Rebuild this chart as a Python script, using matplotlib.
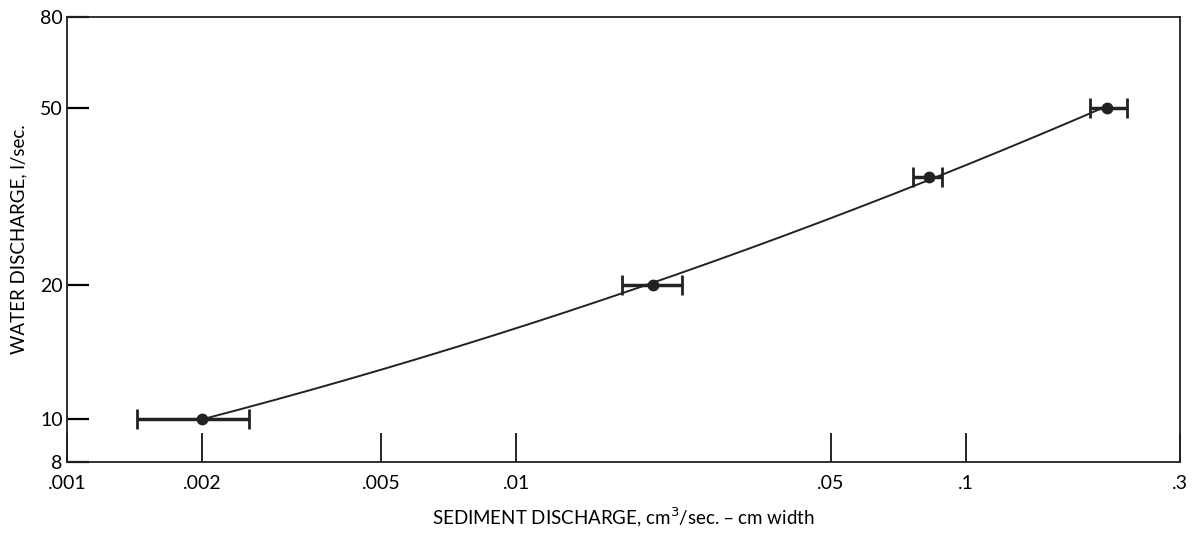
import numpy as np
import matplotlib.pyplot as plt
from matplotlib.ticker import FixedLocator, FixedFormatter, NullLocator

# sediment discharge (cm3/sec - cm width) and water discharge (l/sec)
sed = [0.002, 0.0201, 0.0827, 0.206]
water = [10, 20, 35, 50]
sed_lo = [0.00143, 0.0172, 0.0762, 0.189]
sed_hi = [0.00254, 0.0234, 0.0884, 0.228]

xticks = [0.001, 0.002, 0.005, 0.01, 0.05, 0.1, 0.3]
xlabels = ['.001', '.002', '.005', '.01', '.05', '.1', '.3']
yticks = [8, 10, 20, 50, 80]
ylabels = ['8', '10', '20', '50', '80']

plt.rcParams['font.family'] = ['Lato', 'DejaVu Sans']

fig = plt.figure(figsize=(11.97, 5.35), dpi=100)
ax = fig.add_axes([0.056, 0.1364, 0.930, 0.832])
ax.set_xscale('log')
ax.set_yscale('log')
ax.set_xlim(0.001, 0.3)
ax.set_ylim(8, 80)

sed = np.array(sed)
water = np.array(water)
xerr = [sed - np.array(sed_lo), np.array(sed_hi) - sed]

# smooth curve: quadratic fit in log-log space
c = np.polyfit(np.log10(sed), np.log10(water), 2)
xs = np.logspace(np.log10(sed[0]), np.log10(sed[-1]), 200)
ax.plot(xs, 10 ** np.polyval(c, np.log10(xs)), color='#222222', lw=1.4)

ax.errorbar(sed, water, xerr=xerr, fmt='o', color='#222222', ms=7.5,
            elinewidth=2.5, capsize=7, capthick=2)

for s in ax.spines.values():
    s.set_linewidth(1.3)
    s.set_color('#222222')

ax.xaxis.set_major_locator(FixedLocator(xticks))
ax.xaxis.set_major_formatter(FixedFormatter(xlabels))
ax.xaxis.set_minor_locator(NullLocator())
ax.yaxis.set_major_locator(FixedLocator(yticks))
ax.yaxis.set_major_formatter(FixedFormatter(ylabels))
ax.yaxis.set_minor_locator(NullLocator())
ax.tick_params(axis='x', direction='in', length=21, width=1.2, pad=9, labelsize=14)
ax.tick_params(axis='y', direction='in', length=16, width=1.6, pad=3, labelsize=14)

ax.set_xlabel('SEDIMENT DISCHARGE, cm$^3$/sec. – cm width', fontsize=13.5, labelpad=10)
ax.set_ylabel('WATER DISCHARGE, l/sec.', fontsize=13.5, labelpad=9)

fig.savefig('out.png', dpi=100)
